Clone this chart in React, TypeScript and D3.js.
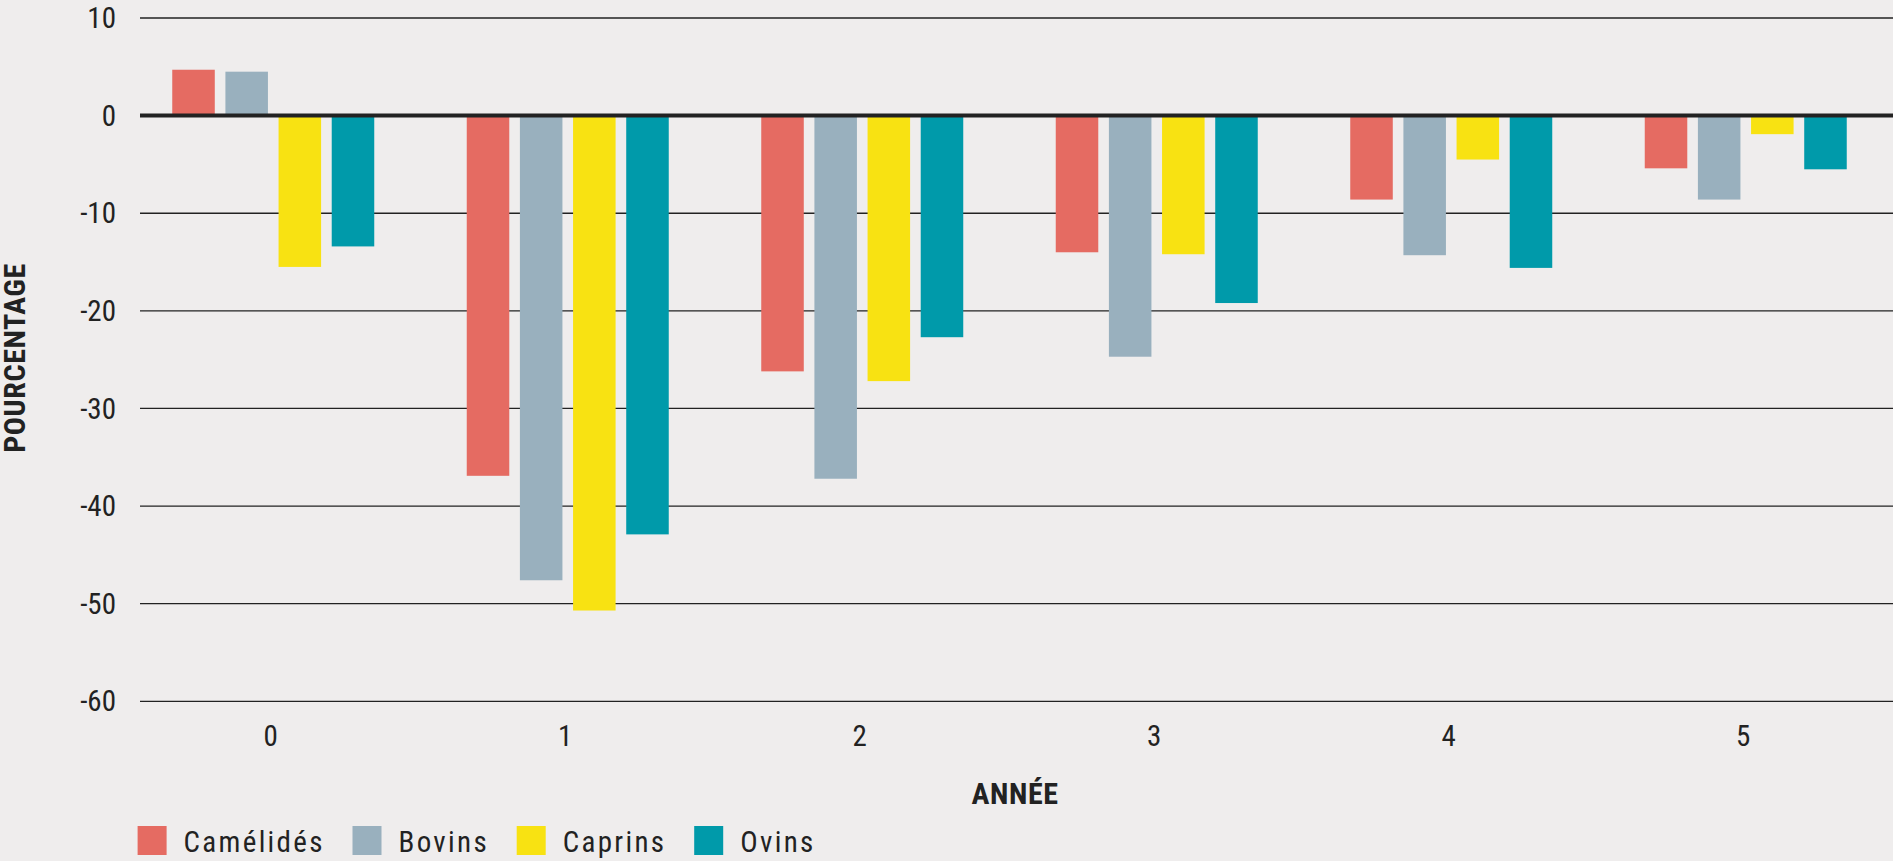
import React, { useEffect, useRef } from 'react';
import * as d3 from 'd3';

const YEARS = ['0', '1', '2', '3', '4', '5'];
const SERIES = ['Camélidés', 'Bovins', 'Caprins', 'Ovins'];
const COLORS = ['#e56b62', '#99b0be', '#f8e212', '#009aaa'];

const CAMELIDES = [4.7, -36.9, -26.2, -14.0, -8.6, -5.4];
const BOVINS = [4.5, -47.6, -37.2, -24.7, -14.3, -8.6];
const CAPRINS = [-15.5, -50.7, -27.2, -14.2, -4.5, -1.9];
const OVINS = [-13.4, -42.9, -22.7, -19.2, -15.6, -5.5];

const Y_TICKS = [10, 0, -10, -20, -30, -40, -50, -60];

const FONT = "'Roboto Condensed', 'DejaVu Sans Condensed', 'Liberation Sans Narrow', Roboto, sans-serif";

export default function App() {
  const ref = useRef<SVGSVGElement | null>(null);

  useEffect(() => {
    document.body.style.margin = '0';
    document.body.style.background = '#efeded';

    const W = 1893;
    const H = 861;
    const svg = d3.select(ref.current);
    svg.selectAll('*').remove();

    const values = [CAMELIDES, BOVINS, CAPRINS, OVINS];

    const y = d3.scaleLinear().domain([10, -60]).range([18, 701.3]);
    const x0 = d3.scaleBand<string>().domain(YEARS).range([126, 1893]).paddingInner(0).paddingOuter(0);
    const x1 = d3.scaleBand<string>().domain(SERIES).range([0, 202]).paddingInner(0.2).paddingOuter(0);
    const groupOffset = (x0.bandwidth() - 202) / 2;

    svg.append('rect').attr('width', W).attr('height', H).attr('fill', '#efeded');

    // gridlines
    svg.append('g').selectAll('line')
      .data(Y_TICKS.filter((t) => t !== 0))
      .join('line')
      .attr('x1', 140)
      .attr('x2', W)
      .attr('y1', (d) => y(d))
      .attr('y2', (d) => y(d))
      .attr('stroke', '#222')
      .attr('stroke-width', 1.3);

    // y tick labels
    svg.append('g').selectAll('text')
      .data(Y_TICKS)
      .join('text')
      .attr('x', 116)
      .attr('y', (d) => y(d))
      .attr('dy', '0.35em')
      .attr('text-anchor', 'end')
      .attr('font-family', FONT)
      .attr('font-stretch', 'condensed')
      .attr('font-size', 29)
      .attr('fill', '#222')
      .text((d) => d);

    // bars
    const groups = svg.append('g').selectAll('g')
      .data(YEARS)
      .join('g')
      .attr('transform', (d) => `translate(${(x0(d) ?? 0) + groupOffset},0)`);

    groups.selectAll('rect')
      .data((_, i) => SERIES.map((s, k) => ({ s, k, v: values[k][i] })))
      .join('rect')
      .attr('x', (d) => x1(d.s) ?? 0)
      .attr('width', x1.bandwidth())
      .attr('y', (d) => y(Math.max(0, d.v)))
      .attr('height', (d) => Math.abs(y(d.v) - y(0)))
      .attr('fill', (d) => COLORS[d.k]);

    // zero line
    svg.append('line')
      .attr('x1', 140)
      .attr('x2', W)
      .attr('y1', y(0))
      .attr('y2', y(0))
      .attr('stroke', '#222')
      .attr('stroke-width', 4);

    // x tick labels
    svg.append('g').selectAll('text')
      .data(YEARS)
      .join('text')
      .attr('x', (d) => (x0(d) ?? 0) + x0.bandwidth() / 2 - 2.5)
      .attr('y', 746)
      .attr('text-anchor', 'middle')
      .attr('font-family', FONT)
      .attr('font-stretch', 'condensed')
      .attr('font-size', 29)
      .attr('fill', '#222')
      .text((d) => d);

    // axis titles
    svg.append('text')
      .attr('transform', 'translate(25,358) rotate(-90)')
      .attr('text-anchor', 'middle')
      .attr('font-family', FONT)
      .attr('font-stretch', 'condensed')
      .attr('font-weight', 'bold')
      .attr('font-size', 30)
      .attr('letter-spacing', '0.02em')
      .attr('fill', '#222')
      .text('POURCENTAGE');

    svg.append('text')
      .attr('x', 1015)
      .attr('y', 804)
      .attr('text-anchor', 'middle')
      .attr('font-family', FONT)
      .attr('font-stretch', 'condensed')
      .attr('font-weight', 'bold')
      .attr('font-size', 30)
      .attr('letter-spacing', '0.02em')
      .attr('fill', '#222')
      .text('ANNÉE');

    // legend
    const legendX = [137.6, 352.5, 516.7, 694.2];
    const legend = svg.append('g').selectAll('g')
      .data(SERIES)
      .join('g')
      .attr('transform', (_, i) => `translate(${legendX[i]},826)`);
    legend.append('rect')
      .attr('width', 29)
      .attr('height', 29)
      .attr('fill', (_, i) => COLORS[i]);
    legend.append('text')
      .attr('x', 46)
      .attr('y', 26)
      .attr('font-family', FONT)
      .attr('font-stretch', 'condensed')
      .attr('font-size', 29)
      .attr('letter-spacing', '0.08em')
      .attr('fill', '#222')
      .text((d) => d);
  }, []);

  return <svg ref={ref} width={1893} height={861} style={{ display: 'block' }} />;
}
